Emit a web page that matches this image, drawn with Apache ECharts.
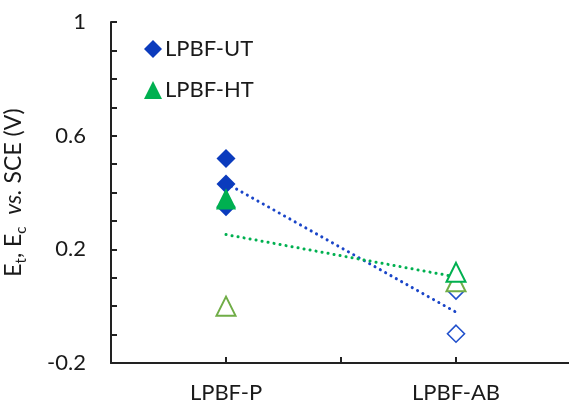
<!DOCTYPE html>
<html>
<head>
<meta charset="utf-8">
<script src="https://cdn.jsdelivr.net/npm/echarts@6/dist/echarts.min.js"></script>
<style>
html,body{margin:0;padding:0;background:#fff;}
#c{width:569px;height:405px;}
</style>
</head>
<body>
<div id="c"></div>
<script>
// ---- data ----
const xTickLabels = ['', 'LPBF-P', '', 'LPBF-AB', ''];
const yTickLabels = ['-0.2', '0.2', '0.6', '1'];

const utFilledCats = ['LPBF-P', 'LPBF-P', 'LPBF-P'];
const utFilledVals = [0.52, 0.43, 0.35];

const htFilledCats = ['LPBF-P', 'LPBF-P'];
const htFilledVals = [0.38, 0.375];

const utOpenCats = ['LPBF-AB', 'LPBF-AB'];
const utOpenVals = [0.055, -0.097];

const htOpenLightCats = ['LPBF-P', 'LPBF-AB'];
const htOpenLightVals = [0.0, 0.086];

const htOpenDarkCats = ['LPBF-AB'];
const htOpenDarkVals = [0.119];

const utTrendCats = ['LPBF-P', 'LPBF-AB'];
const utTrendVals = [0.433, -0.021];
const htTrendCats = ['LPBF-P', 'LPBF-AB'];
const htTrendVals = [0.252, 0.103];

// ---- build ----
const pts = (cats, vals) => cats.map((c, i) => [xTickLabels.indexOf(c), vals[i]]);

const BLUE = '#0b3bbd';
const BLUE_OPEN = '#2150cc';
const GREEN = '#00b050';
const LGREEN = '#70ad47';
const FONT = 'Lato';
const TXT = '#1a1a1a';

const chart = echarts.init(document.getElementById('c'), null, {renderer: 'canvas'});
chart.setOption({
  animation: false,
  backgroundColor: '#fff',
  grid: {left: 111, top: 22, right: -2, bottom: 42, containLabel: false, outerBoundsMode: 'none'},
  legend: {
    orient: 'vertical',
    left: 139,
    top: 33,
    itemGap: 19,
    itemWidth: 18,
    itemHeight: 18,
    textStyle: {fontFamily: FONT, fontSize: 22, color: TXT, lineHeight: 22, padding: [0, 0, 0, -2]},
    data: [
      {name: 'LPBF-UT', icon: 'diamond'},
      {name: 'LPBF-HT', icon: 'triangle'}
    ]
  },
  xAxis: {
    type: 'value',
    min: 0, max: 4, interval: 1,
    axisLine: {show: true, onZero: false, lineStyle: {color: '#222', width: 2}},
    axisTick: {show: true, inside: true, length: 6, lineStyle: {color: '#222', width: 2}},
    splitLine: {show: false},
    axisLabel: {
      margin: 19,
      fontFamily: FONT, fontSize: 22, color: TXT,
      formatter: v => xTickLabels[Math.round(v)] || ''
    }
  },
  yAxis: {
    type: 'value',
    min: -0.2, max: 1, interval: 0.1,
    axisLine: {show: true, onZero: false, lineStyle: {color: '#222', width: 2}},
    axisTick: {show: true, inside: true, length: 6, lineStyle: {color: '#222', width: 2}},
    splitLine: {show: false},
    axisLabel: {
      margin: 25,
      fontFamily: FONT, fontSize: 22, color: TXT,
      formatter: v => {
        const s = String(Math.round(v * 10) / 10);
        return yTickLabels.includes(s) ? s : '';
      }
    },
    name: '{n|E}{s|t}{n|, E}{s|c}{n|  }{i|vs.}{n| SCE (V)}',
    nameLocation: 'middle',
    nameRotate: 90,
    nameGap: 82,
    nameTextStyle: {
      fontFamily: FONT, fontSize: 23, color: TXT,
      rich: {
        n: {fontFamily: FONT, fontSize: 23, color: TXT, lineHeight: 30, verticalAlign: 'middle'},
        i: {fontFamily: FONT, fontSize: 23, color: TXT, fontStyle: 'italic', lineHeight: 30, verticalAlign: 'middle'},
        s: {fontFamily: FONT, fontSize: 15, color: TXT, lineHeight: 15, verticalAlign: 'bottom'}
      }
    }
  },
  series: [
    {
      name: 'utTrend', type: 'line', data: pts(utTrendCats, utTrendVals),
      symbol: 'none', silent: true, z: 1,
      lineStyle: {color: '#1a45c8', width: 3, type: [0.1, 6], cap: 'round'}
    },
    {
      name: 'htTrend', type: 'line', data: pts(htTrendCats, htTrendVals),
      symbol: 'none', silent: true, z: 1,
      lineStyle: {color: GREEN, width: 3, type: [0.1, 6], cap: 'round'}
    },
    {
      name: 'LPBF-UT', type: 'scatter', data: pts(utFilledCats, utFilledVals),
      symbol: 'diamond', symbolSize: 19, z: 3,
      itemStyle: {color: BLUE, opacity: 1}
    },
    {
      name: 'LPBF-HT', type: 'scatter', data: pts(htFilledCats, htFilledVals),
      symbol: 'triangle', symbolSize: 20, z: 3,
      itemStyle: {color: GREEN, opacity: 1}
    },
    {
      name: 'utOpen', type: 'scatter', data: pts(utOpenCats, utOpenVals),
      symbol: 'diamond', symbolSize: 17, z: 3,
      itemStyle: {color: '#fff', borderColor: BLUE_OPEN, borderWidth: 1.6, opacity: 1}
    },
    {
      name: 'htOpenLight', type: 'scatter', data: pts(htOpenLightCats, htOpenLightVals),
      symbol: 'triangle', symbolSize: 19, z: 3,
      itemStyle: {color: '#fff', borderColor: LGREEN, borderWidth: 2, opacity: 1}
    },
    {
      name: 'htOpenDark', type: 'scatter', data: pts(htOpenDarkCats, htOpenDarkVals),
      symbol: 'triangle', symbolSize: 19, z: 3,
      itemStyle: {color: '#fff', borderColor: GREEN, borderWidth: 2, opacity: 1}
    }
  ]
});
</script>
</body>
</html>
